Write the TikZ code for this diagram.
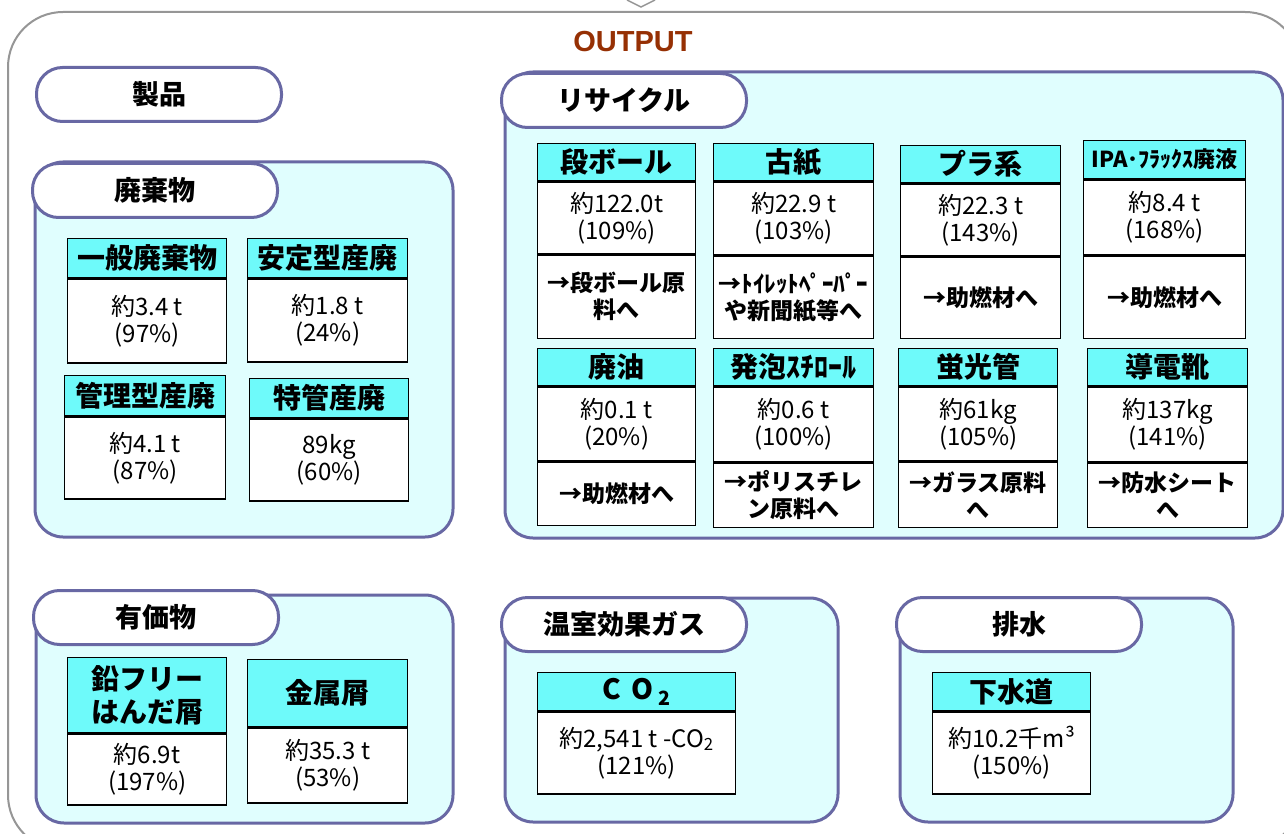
\documentclass[tikz,border=0pt]{standalone}
\usepackage{fontspec}
\setmainfont{Noto Sans CJK JP}
\newfontfamily\outfont{Liberation Sans}
\usepackage{tikz}

\definecolor{panelfill}{RGB}{224,254,254}
\definecolor{panelline}{RGB}{104,104,164}
\definecolor{hdrcyan}{RGB}{110,250,250}
\definecolor{framegray}{RGB}{150,150,150}
\definecolor{outbrown}{RGB}{150,48,4}

\begin{document}
\begin{tikzpicture}[x=1pt, y=-1pt,
  panel/.style={draw=panelline, line width=3, fill=panelfill, rounded corners=28},
  pill/.style={draw=panelline, line width=3, fill=white, rounded corners=26,
    minimum width=245, minimum height=54, anchor=north west,
    font=\fontsize{27}{32}\selectfont\bfseries},
  hdr/.style={draw, line width=1.3, fill=hdrcyan, minimum width=158, minimum height=37,
    inner sep=1pt, align=center, anchor=north west,
    font=\fontsize{28}{33}\selectfont\bfseries},
  valbox/.style={draw, line width=1.3, fill=white, minimum width=158, inner sep=1pt,
    align=center, anchor=north, font=\fontsize{24}{27}\selectfont},
  dstbox/.style={valbox, font=\fontsize{23}{27}\selectfont\bfseries}]
\useasboundingbox (0,0) rectangle (1284,834);
\clip (0,0) rectangle (1284,834);

%outer frame
  \draw[framegray, line width=2, fill=white, rounded corners=55] (8,12) rectangle (1300,850);
  \draw[framegray, line width=1.5, fill=white] (627,0) -- (641,7) -- (655,0);
  \node[font=\outfont\fontsize{29}{32}\selectfont\bfseries, text=outbrown] (out) at (633,42) {OUTPUT};

%panels
  \draw[panel] (35,162) rectangle (453,537);
  \draw[panel] (505,72) rectangle (1283,538);
  \draw[panel] (36,595) rectangle (453,823);
  \draw[panel] (505,598) rectangle (838,822);
  \draw[panel] (900,598) rectangle (1233,822);

%labels
  \node[pill] (seihin) at (35,66) {製品};
  \node[pill] (haiki) at (31,162) {廃棄物};
  \node[pill] (recyc) at (500,72) {リサイクル};
  \node[pill] (yuka) at (32,589) {有価物};
  \node[pill] (gas) at (500,596) {温室効果ガス};
  \node[pill] (haisui) at (895,596) {排水};

%haikibutsu
  \node[hdr, minimum width=159, minimum height=39] (hIppan) at (67,238) {一般廃棄物};
  \node[valbox, minimum width=159, minimum height=84] (vIppan) at (hIppan.south) {約3.4 t\\(97\%)};
  \node[hdr, minimum width=160, minimum height=39] (hAntei) at (247,238) {安定型産廃};
  \node[valbox, minimum width=160, minimum height=83] (vAntei) at (hAntei.south) {約1.8 t\\(24\%)};
  \node[hdr, minimum width=161, minimum height=40] (hKanri) at (64,375) {管理型産廃};
  \node[valbox, minimum width=161, minimum height=82] (vKanri) at (hKanri.south) {約4.1 t\\(87\%)};
  \node[hdr, minimum width=159, minimum height=39] (hTokkan) at (249,378) {特管産廃};
  \node[valbox, minimum width=159, minimum height=82] (vTokkan) at (hTokkan.south) {89kg\\(60\%)};

%recycle, row 1
  \node[hdr] (hDan) at (537,143) {段ボール};
  \node[valbox, minimum height=72] (vDan) at (hDan.south) {約122.0t\\(109\%)};
  \node[dstbox, minimum height=83] (dDan) at (vDan.south) {→段ボール原\\料へ};
  \node[hdr, minimum width=160] (hKoshi) at (713,143) {古紙};
  \node[valbox, minimum width=160, minimum height=73] (vKoshi) at (hKoshi.south) {約22.9 t\\(103\%)};
  \node[dstbox, minimum width=160, minimum height=82] (dKoshi) at (vKoshi.south) {→ﾄｲﾚｯﾄﾍﾟｰﾊﾟｰ\\や新聞紙等へ};
  \node[hdr, minimum width=160] (hPura) at (900,145) {プラ系};
  \node[valbox, minimum width=160, minimum height=72] (vPura) at (hPura.south) {約22.3 t\\(143\%)};
  \node[dstbox, minimum width=160, minimum height=81] (dPura) at (vPura.south) {→助燃材へ};
  \node[hdr, minimum width=162, minimum height=38, font=\fontsize{22}{26}\selectfont\bfseries] (hIpa) at (1083,140) {IPA･ﾌﾗｯｸｽ廃液};
  \node[valbox, minimum width=162, minimum height=75] (vIpa) at (hIpa.south) {約8.4 t\\(168\%)};
  \node[dstbox, minimum width=162, minimum height=82] (dIpa) at (vIpa.south) {→助燃材へ};

%recycle, row 2
  \node[hdr] (hHaiyu) at (537,348) {廃油};
  \node[valbox, minimum height=74] (vHaiyu) at (hHaiyu.south) {約0.1 t\\(20\%)};
  \node[dstbox, minimum height=63] (dHaiyu) at (vHaiyu.south) {→助燃材へ};
  \node[hdr, minimum width=160] (hHappo) at (713,348) {発泡ｽﾁﾛｰﾙ};
  \node[valbox, minimum width=160, minimum height=75] (vHappo) at (hHappo.south) {約0.6 t\\(100\%)};
  \node[dstbox, minimum width=160, minimum height=64] (dHappo) at (vHappo.south) {→ポリスチレ\\ン原料へ};
  \node[hdr, minimum width=159] (hKeiko) at (898,348) {蛍光管};
  \node[valbox, minimum width=159, minimum height=74] (vKeiko) at (hKeiko.south) {約61kg\\(105\%)};
  \node[dstbox, minimum width=159, minimum height=65] (dKeiko) at (vKeiko.south) {→ガラス原料\\へ};
  \node[hdr, minimum width=160] (hDoden) at (1087,348) {導電靴};
  \node[valbox, minimum width=160, minimum height=75] (vDoden) at (hDoden.south) {約137kg\\(141\%)};
  \node[dstbox, minimum width=160, minimum height=64] (dDoden) at (vDoden.south) {→防水シート\\へ};

%yukabutsu
  \node[hdr, minimum width=159, minimum height=75] (hNamari) at (67,657) {鉛フリー\\はんだ屑};
  \node[valbox, minimum width=159, minimum height=71] (vNamari) at (hNamari.south) {約6.9t\\(197\%)};
  \node[hdr, minimum width=160, minimum height=67] (hKinzoku) at (247,659) {金属屑};
  \node[valbox, minimum width=160, minimum height=75] (vKinzoku) at (hKinzoku.south) {約35.3 t\\(53\%)};

%gas and water
  \node[hdr, minimum width=198, minimum height=38] (hCo) at (537,672) {C\hspace{10pt}O\hspace{5pt}\textsubscript{2}};
  \node[valbox, minimum width=198, minimum height=82] (vCo) at (hCo.south) {約2,541 t -CO\textsubscript{2}\\(121\%)};
  \node[hdr, minimum width=158, minimum height=38] (hGesui) at (932,672) {下水道};
  \node[valbox, minimum width=158, minimum height=82] (vGesui) at (hGesui.south) {約10.2千m³\\(150\%)};
\end{tikzpicture}
\end{document}
